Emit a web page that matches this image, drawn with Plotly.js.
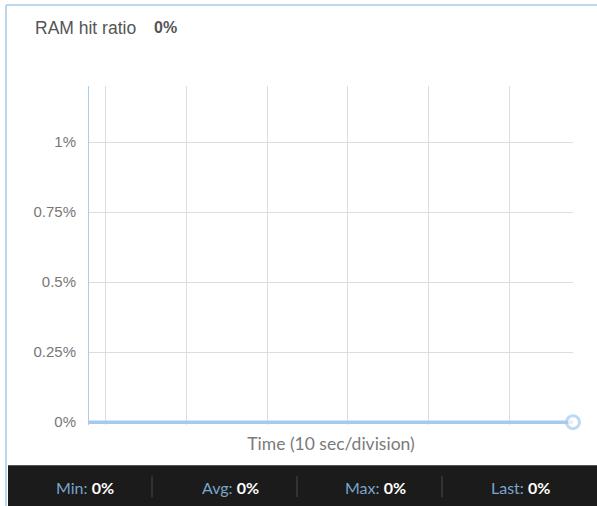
<!DOCTYPE html>
<html>
<head>
<meta charset="utf-8">
<script src="https://cdn.plot.ly/plotly-3.0.1.min.js"></script>
<style>
html,body{margin:0;padding:0;background:#fff;}
#chart{width:597px;height:506px;}
</style>
</head>
<body>
<div id="chart"></div>
<script>
// Data
var timeSec = [-60, -55, -50, -45, -40, -35, -30, -25, -20, -15, -10, -5, 0];
var hitRatio = [0, 0, 0, 0, 0, 0, 0, 0, 0, 0, 0, 0, 0];
var yTickVals = [0, 0.25, 0.5, 0.75, 1];
var yTickText = ['0%', '0.25%', '0.5%', '0.75%', '1%'];
var statNames = ['Min', 'Avg', 'Max', 'Last'];
var statValues = ['0%', '0%', '0%', '0%'];
var chartTitle = 'RAM hit ratio';
var currentValue = '0%';
var xAxisTitle = 'Time (10 sec/division)';

var lineColor = '#a6caee';
var n = timeSec.length;
var markerSizes = timeSec.map(function(_, i){ return i === n - 1 ? 13 : 0; });

var trace = {
  x: timeSec,
  y: hitRatio,
  type: 'scatter',
  mode: 'lines+markers',
  line: {color: lineColor, width: 3.5},
  marker: {size: markerSizes, color: '#ffffff', line: {color: lineColor, width: 3}},
  cliponaxis: false,
  hoverinfo: 'skip'
};

var W = 597, H = 506;
// plot area: x 89..573, y 86..424.8 (y=0 at 422)
var PL = 89, PR = 573, PT = 86, PB = 424.8;
function px(x){ return (x - PL) / (PR - PL); }
function py(y){ return (PB - y) / (PB - PT); }

var statCenters = [85, 230, 375, 520];
var annotations = statNames.map(function(name, i){
  return {
    xref: 'paper', yref: 'paper',
    x: px(statCenters[i]),
    y: py(487),
    xanchor: 'center', yanchor: 'middle',
    showarrow: false,
    text: '<span style="color:#7aa5cc">' + name + ':</span> <b>' + statValues[i] + '</b>',
    font: {family: 'Lato, sans-serif', size: 16, color: '#ffffff'}
  };
});
annotations.push({
  xref: 'paper', yref: 'paper',
  x: px(152), y: py(28),
  xanchor: 'left', yanchor: 'middle',
  showarrow: false,
  text: '<b>' + currentValue + '</b>',
  font: {family: 'Liberation Sans, Arial, sans-serif', size: 16, color: '#555555'}
});

var shapes = [
  {type: 'rect', xref: 'paper', yref: 'paper', x0: px(8), x1: px(600), y0: py(465), y1: py(510),
   fillcolor: '#1b1b1b', line: {width: 0}, layer: 'above'},
  {type: 'line', xref: 'paper', yref: 'paper', x0: px(6), x1: px(600), y0: py(5), y1: py(5),
   line: {color: '#a9c9ea', width: 1.5}},
  {type: 'line', xref: 'paper', yref: 'paper', x0: px(6), x1: px(6), y0: py(5), y1: py(510),
   line: {color: '#a9c9ea', width: 1.5}}
];
[152, 297, 442].forEach(function(x){
  shapes.push({type: 'line', xref: 'paper', yref: 'paper', x0: px(x), x1: px(x), y0: py(476), y1: py(497),
    line: {color: '#4a4a4a', width: 1}, layer: 'above'});
});

var layout = {
  width: W, height: H,
  margin: {l: PL, r: W - PR, t: PT, b: H - PB},
  paper_bgcolor: '#ffffff',
  plot_bgcolor: '#ffffff',
  showlegend: false,
  title: {
    text: chartTitle,
    x: 35 / W, xref: 'container', xanchor: 'left',
    y: 1 - 28 / H, yref: 'container', yanchor: 'middle',
    font: {family: 'Liberation Sans, Arial, sans-serif', size: 17.5, color: '#555555'}
  },
  xaxis: {
    range: [-60, 0],
    tick0: -57.9, dtick: 10,
    showgrid: true, gridcolor: '#dddddd', gridwidth: 1,
    showticklabels: false, ticks: '',
    zeroline: false, showline: false,
    title: {text: xAxisTitle, standoff: 12, font: {family: 'Lato, sans-serif', size: 17.5, color: '#7a7a7a'}}
  },
  yaxis: {
    range: [-0.01, 1.2],
    tickvals: yTickVals, ticktext: yTickText,
    showgrid: true, gridcolor: '#dddddd', gridwidth: 1,
    zeroline: false,
    showline: true, linecolor: '#a9cdee', linewidth: 1,
    ticks: '', ticklabelstandoff: 9,
    tickfont: {family: 'Liberation Sans, Arial, sans-serif', size: 15, color: '#777777'}
  },
  shapes: shapes,
  annotations: annotations
};

Plotly.newPlot('chart', [trace], layout, {displayModeBar: false, staticPlot: true});
</script>
</body>
</html>
